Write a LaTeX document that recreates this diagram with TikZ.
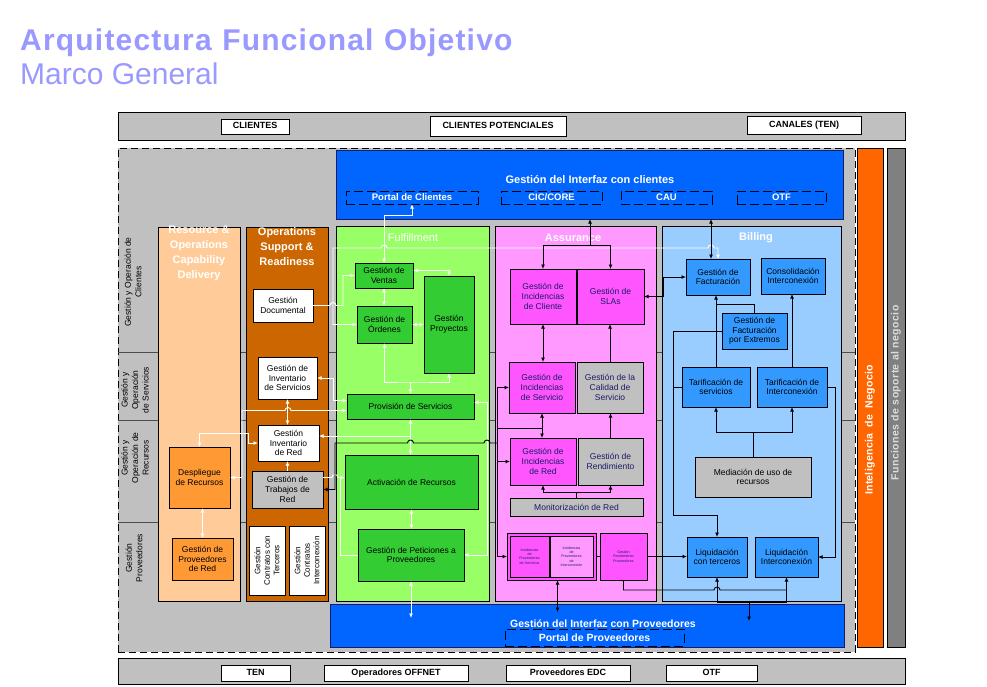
\documentclass[tikz,border=0pt]{standalone}
\usepackage{fontspec}
\setmainfont{Liberation Sans}
\usetikzlibrary{arrows.meta,calc}

\definecolor{ttl}{HTML}{9999FF}
\definecolor{bggray}{HTML}{C0C0C0}
\definecolor{ifblue}{HTML}{0066FF}
\definecolor{ibar}{HTML}{FF6600}
\definecolor{fbar}{HTML}{808080}
\definecolor{peach}{HTML}{FFCC99}
\definecolor{brownc}{HTML}{CC6600}
\definecolor{orbox}{HTML}{FF9933}
\definecolor{lgreen}{HTML}{99FF66}
\definecolor{dgreen}{HTML}{33CC33}
\definecolor{lpink}{HTML}{FF99FF}
\definecolor{magbox}{HTML}{FF55FF}
\definecolor{lblue}{HTML}{99CCFF}
\definecolor{bbox}{HTML}{3399FF}
\definecolor{navy}{HTML}{1A1A66}
\definecolor{fgray}{HTML}{DDDDDD}

\newcommand\fs{\fontsize{8.5}{9.6}\selectfont}
\newcommand\tinyfs{\fontsize{3.6}{4.3}\selectfont}
\newcommand\mybox[7]{\node[#1,minimum width={(#5-#3)*1pt},minimum height={(#6-#4)*1pt}] (#2) at ({(#3+#5)/2},{(#4+#6)/2}) {#7};}

\begin{document}
\begin{tikzpicture}[x=1pt,y=-1pt,
  bx/.style={draw=black,line width=0.7pt,inner sep=1pt,outer sep=0pt,align=center,font=\fs},
  plain/.style={inner sep=0pt,outer sep=0pt},
  tag/.style={draw=black,fill=white,line width=1pt,inner sep=0pt,outer sep=0pt,text height=6.8pt,text depth=1.9pt,font=\fontsize{9}{10}\selectfont\bfseries},
  dbx/.style={draw=black,dash pattern=on 9pt off 4pt,line width=0.9pt,inner sep=0pt,outer sep=0pt,text=white,font=\fontsize{9.5}{11}\selectfont\bfseries},
  coltitle/.style={inner sep=0pt,align=center,text=white,font=\fontsize{11}{15}\selectfont\bfseries},
  lbl/.style={rotate=90,inner sep=0pt,align=center,font=\fontsize{8.5}{10.5}\selectfont},
  wl/.style={draw=white,line width=0.9pt},
  bl/.style={draw=black,line width=0.9pt},
  sepl/.style={draw=black!70,line width=0.7pt},
  >={Latex[length=4.5pt,width=4pt]}]

\useasboundingbox (0,0) rectangle (987,686);
\fill[white] (0,0) rectangle (987,686);

% titles
\node[anchor=base west,inner sep=0pt,text=ttl,font=\fontsize{30}{32}\selectfont\bfseries\addfontfeature{LetterSpace=4}] (title) at (20,50) {Arquitectura\hspace{0.35em}Funcional\hspace{0.35em}Objetivo};
\node[anchor=base west,inner sep=0pt,text=ttl,font=\fontsize{30}{32}\selectfont] (subtitle) at (20,84) {Marco General};

% top bar
\mybox{plain,draw=black,fill=bggray,line width=0.8pt}{topbar}{118}{112}{905}{140}{}
\mybox{tag}{clientes}{221}{119}{289}{134}{CLIENTES}
\mybox{tag}{potenciales}{430}{116}{566}{136}{CLIENTES POTENCIALES}
\mybox{tag}{canales}{747}{116}{861}{134}{CANALES (TEN)}

% bottom bar
\mybox{plain,draw=black,fill=bggray,line width=0.8pt}{botbar}{118}{658}{905}{684}{}
\mybox{tag}{ten}{221}{665}{290}{681}{TEN}
\mybox{tag}{offnet}{324}{665}{468}{681}{Operadores OFFNET}
\mybox{tag}{edc}{506}{665}{630}{681}{Proveedores EDC}
\mybox{tag}{otfb}{666}{665}{757}{681}{OTF}

% main region
\mybox{plain,fill=bggray,draw=black,line width=0.8pt,dash pattern=on 7pt off 4pt}{main}{118}{148}{855}{652}{}
\draw[sepl] (main.west |- 0,352) -- (main.east |- 0,352);
\draw[sepl] (main.west |- 0,420) -- (main.east |- 0,420);
\draw[sepl] (main.west |- 0,522) -- (main.east |- 0,522);

% side bars
\mybox{plain,draw=black,fill=ibar,line width=0.6pt}{intel}{857}{148}{883}{647}{}
\node[rotate=90,inner sep=0pt,text=white,font=\fontsize{10.5}{12}\selectfont\bfseries\addfontfeature{LetterSpace=3}] (intelt) at (870,430) {Inteligencia\hspace{0.3em} de\hspace{0.3em} Negocio};
\mybox{plain,draw=black,fill=fbar,line width=0.6pt}{func}{887}{148}{905}{647}{}
\node[rotate=90,inner sep=0pt,text=fgray,font=\fontsize{10.5}{12}\selectfont\bfseries\addfontfeature{LetterSpace=4}] (funct) at (896,393) {Funciones de soporte al negocio};

% left labels
\node[lbl] (l1) at (133,282) {Gestión y Operación de\\Clientes};
\node[lbl] (l2) at (135,390) {Gestión y\\Operación\\de Servicios};
\node[lbl] (l3) at (135,458) {Gestión y\\Operación de\\Recursos};
\node[lbl] (l4) at (134,558) {Gestión\\Proveedores};

% client interface
\mybox{plain,draw=navy,fill=ifblue,line width=0.8pt}{iface}{336}{150}{843}{219}{}
\node[inner sep=0pt,text=white,font=\fontsize{11}{13}\selectfont\bfseries] (ifacet) at (590,180) {Gestión del Interfaz con clientes};
\mybox{dbx}{portal}{346}{191}{478}{204}{Portal de Clientes}
\mybox{dbx}{cic}{501}{191}{602}{204}{CIC/CORE}
\mybox{dbx}{cau}{621}{191}{712}{204}{CAU}
\mybox{dbx}{otf}{737}{191}{826}{204}{OTF}

% provider interface
\mybox{plain,draw=navy,fill=ifblue,line width=0.8pt}{pface}{330}{604}{844}{647}{}
\node[inner sep=0pt,text=white,font=\fontsize{10.5}{12}\selectfont\bfseries] (pfacet) at (603,624) {Gestión del Interfaz con Proveedores};
\mybox{dbx,font=\fontsize{10.5}{12}\selectfont\bfseries}{portalp}{505}{629}{684}{646}{Portal de Proveedores}

% columns
\mybox{plain,draw=black,fill=peach,line width=0.7pt}{rocd}{158}{227}{240}{601}{}
\node[coltitle,anchor=north] (rocdt) at (199,226) {Resource \&\\Operations\\Capability\\Delivery};
\mybox{plain,draw=black,fill=brownc,line width=0.7pt}{osr}{246}{227}{328}{601}{}
\node[coltitle,anchor=north] (osrt) at (287,227) {Operations\\Support \&\\Readiness};
\mybox{plain,draw=black,fill=lgreen,line width=0.7pt}{ful}{336}{226}{489}{601}{}
\node[inner sep=0pt,text=white,font=\fontsize{11}{13}\selectfont] (fult) at (413,238) {Fulfillment};
\mybox{plain,draw=black,fill=lpink,line width=0.7pt}{ass}{495}{226}{656}{601}{}
\node[inner sep=0pt,text=white,font=\fontsize{11}{13}\selectfont\bfseries] (asst) at (573,238) {Assurance};
\mybox{plain,draw=black,fill=lblue,line width=0.7pt}{bil}{662}{226}{841}{601}{}
\node[inner sep=0pt,text=white,font=\fontsize{11}{13}\selectfont\bfseries] (bilt) at (756,238) {Billing};

% resource column
\mybox{bx,fill=orbox}{despliegue}{169}{447}{230}{508}{Despliegue\\de Recursos}
\mybox{bx,fill=orbox}{provred}{172}{538}{233}{580}{Gestión de\\Proveedores\\de Red}

% operations support
\mybox{bx,fill=white}{documental}{253}{289}{313}{322}{Gestión\\Documental}
\mybox{bx,fill=white}{invserv}{258}{357}{317}{399}{Gestión de\\Inventario\\de Servicios}
\mybox{bx,fill=white}{invred}{258}{425}{319}{461}{Gestión\\Inventario\\de Red}
\mybox{bx,fill=bggray}{trabajos}{252}{471}{323}{508}{Gestión de\\Trabajos de\\Red}
\mybox{bx,fill=white}{contter}{249}{526}{285}{595}{}
\node[rotate=90,inner sep=0pt,align=center,font=\fontsize{8}{9.5}\selectfont] (conttert) at (contter.center) {Gestión\\Contratos con\\Terceros};
\mybox{bx,fill=white}{continter}{289}{526}{325}{595}{}
\node[rotate=90,inner sep=0pt,align=center,font=\fontsize{8}{9.5}\selectfont] (contintert) at (continter.center) {Gestión\\Contratos\\Interconexión};

% fulfillment
\mybox{bx,fill=dgreen}{ventas}{355}{263}{413}{288}{Gestión de\\Ventas}
\mybox{bx,fill=dgreen}{ordenes}{357}{306}{412}{343}{Gestión de\\Órdenes}
\mybox{bx,fill=dgreen}{proyectos}{424}{276}{474}{373}{Gestión\\Proyectos}
\mybox{bx,fill=dgreen}{provision}{347}{394}{474}{419}{Provisión de Servicios}
\mybox{bx,fill=dgreen}{activacion}{345}{455}{478}{509}{Activación de Recursos}
\mybox{bx,fill=dgreen}{peticiones}{358}{529}{464}{581}{Gestión de Peticiones a\\Proveedores}

% assurance
\mybox{bx,fill=magbox,text=navy}{incl}{510}{269}{576}{324}{Gestión de\\Incidencias\\de Cliente}
\mybox{bx,fill=magbox,text=navy}{slas}{577}{269}{644}{324}{Gestión de\\SLAs}
\mybox{bx,fill=magbox,text=navy}{incserv}{509}{362}{575}{413}{Gestión de\\Incidencias\\de Servicio}
\mybox{bx,fill=bggray,text=navy}{calidad}{577}{362}{643}{413}{Gestión de la\\Calidad de\\Servicio}
\mybox{bx,fill=magbox,text=navy}{incred}{510}{438}{576}{485}{Gestión de\\Incidencias\\de Red}
\mybox{bx,fill=bggray,text=navy}{rend}{578}{438}{643}{485}{Gestión de\\Rendimiento}
\mybox{bx,fill=bggray,text=navy}{monitor}{510}{498}{643}{516}{Monitorización de Red}
\mybox{bx,fill=magbox}{grp}{507}{533}{596}{580}{}
\mybox{bx,fill=magbox,font=\tinyfs,text=navy}{ip1}{510}{536}{549}{577}{Incidencias\\de\\Proveedores\\de Servicios}
\mybox{bx,fill=lpink,font=\tinyfs,text=navy}{ip2}{550}{536}{593}{577}{Incidencias\\de\\Proveedores\\de\\Interconexión}
\mybox{bx,fill=magbox,font=\tinyfs,text=navy}{rendprov}{600}{533}{647}{580}{Gestión\\Rendimiento\\Proveedores}

% billing
\mybox{bx,fill=bbox}{fact}{686}{259}{750}{295}{Gestión de\\Facturación}
\mybox{bx,fill=bbox}{consol}{761}{258}{825}{294}{Consolidación\\Interconexión}
\mybox{bx,fill=bbox}{extremos}{722}{313}{787}{349}{Gestión de\\Facturación\\por Extremos}
\mybox{bx,fill=bbox}{tarserv}{682}{367}{750}{407}{Tarificación de\\servicios}
\mybox{bx,fill=bbox}{tarinter}{757}{367}{827}{407}{Tarificación de\\Interconexión}
\mybox{bx,fill=bggray}{mediacion}{695}{457}{811}{497}{Mediación de uso de\\recursos}
\mybox{bx,fill=bbox}{liqter}{687}{537}{747}{577}{Liquidación\\con terceros}
\mybox{bx,fill=bbox}{liqinter}{755}{537}{818}{577}{Liquidación\\Interconexión}

% ---------- white connectors ----------
\draw[wl,<->] (ventas.north) -- (384,215) -| (portal.south);
\draw[wl,<->] (ordenes.west) -- (333,324.5) -- (333,248) -- (381,248) arc[start angle=180,end angle=360,radius=3] -- (708,248) arc[start angle=180,end angle=360,radius=3] -- (718,248) -- (fact.north);
\draw[wl,<->] (ventas.south) -- (ventas.south |- ordenes.north);
\draw[wl,<->] ([yshift=5pt]ventas.east) -| (proyectos.north);
\draw[wl,<->] (ordenes.east) -- (ordenes.east -| proyectos.west);
\coordinate (j1) at (410.5,382);
\draw[wl,<->] (ordenes.south) |- (j1) -| (proyectos.south);
\draw[wl,->] (j1) -- (provision.north);
\draw[wl,<->] (provision.south) -- (provision.south |- activacion.north);
\draw[wl,<->] (activacion.south) -- (activacion.south |- peticiones.north);
\draw[wl,<->] (peticiones.south) -- ++(0,37);
\draw[wl,->] (documental.east) -- (330,305.5) arc[start angle=180,end angle=360,radius=3] -- (343,305.5) |- (ventas.west);
\draw[wl,<->] (invserv.east) -- (333,378) |- ([yshift=6pt]provision.west);
\draw[wl,<->] (despliegue.east) -- (242,477.5) -- (242,410.5) -- (285,410.5) arc[start angle=180,end angle=360,radius=3] -- ([yshift=-4pt]provision.west);
\draw[wl,<->] (despliegue.north) |- (248,433) |- (invred.west);
\draw[wl,<->] (invserv.south) -- (invserv.south |- invred.north);
\draw[wl,->] (trabajos.north) -- (trabajos.north |- invred.south);
\coordinate (j2) at (410.5,436);
\draw[wl,<-] ([yshift=7pt]invred.east) -- (j2);
\draw[wl,->] ([yshift=12pt]trabajos.east) -- (332,477.5) arc[start angle=180,end angle=360,radius=3] -- (activacion.west |- 0,477.5);
\draw[wl] (340,477.5) |- (peticiones.west);
\draw[wl,<->] ([yshift=4pt]provision.east) -- (487,402.5) |- (peticiones.east);
\draw[wl,<->] (provred.north) -- (provred.north |- despliegue.south);

% ---------- black connectors ----------
\coordinate (j3) at (590,245);
\draw[bl,<-] (iface.south -| j3) -- (j3);
\draw[bl,->] (j3) -| (incl.north);
\draw[bl,->] (j3) -| (slas.north);
\draw[bl,<->] (iface.south -| 711,0) -- (fact.north -| 711,0);
\draw[bl,<->] (incl.south) -- (incl.south |- incserv.north);
\draw[bl,->] (calidad.north) -- (calidad.north |- slas.south);
\draw[bl,->] (rend.north) -- (rend.north |- calidad.south);
\draw[bl,<->] (incserv.south) -- (incserv.south |- incred.north);
\draw[bl,->] (monitor.north) -- ++(0,-6) -| (incred.south);
\draw[bl,->] (monitor.north) -- ++(0,-6) -| (rend.south);
\draw[bl,<->] (slas.east) -- (663,296.5) |- (fact.west);
\coordinate (j4) at (497,443);
\draw[bl,->] (j4) |- (incserv.west);
\draw[bl,->] (j4) |- (incred.west);
\draw[bl,->] (j4) |- (grp.west);
\draw[bl] (497,428) -- (incserv.south |- 0,428);
\draw[bl,->] (j4) -- (490,443) arc[start angle=0,end angle=-180,radius=3] -- (413.5,443) arc[start angle=0,end angle=-180,radius=3] -- (335,443) |- (trabajos.east);
\draw[bl,<->] ([xshift=6pt]grp.south) -- ++(0,32);
\draw[bl] (grp.east) -- (rendprov.west);
\draw[bl,->] (rendprov.east) -- (rendprov.east -| liqter.west);
\draw[bl] (rendprov.south) |- (714,590) arc[start angle=180,end angle=360,radius=3] -- (liqinter.south |- 0,590);
\coordinate (j5) at (749,602);
\draw[bl,<-] (liqter.south) |- (j5);
\draw[bl,<-] (liqinter.south) |- (j5);
\draw[bl,->] (j5) -- ++(0,19);
\draw[bl,->] (tarserv.north) -- (tarserv.north |- fact.south);
\draw[bl] (extremos.north) |- (tarserv.north |- 0,304);
\draw[bl,->] (tarinter.north) -- (tarinter.north |- consol.south);
\draw[bl,->] (extremos.west) -- (673,331) -- (673,515) -| (liqter.north);
\draw[bl] (tarserv.west) -- (673,387);
\draw[bl,->] (tarinter.east) -- (835,387) |- (liqinter.east);
\draw[bl,->] (mediacion.north) -- ++(0,-25) -| (tarserv.south);
\draw[bl,->] (mediacion.north) -- ++(0,-25) -| (tarinter.south);
\end{tikzpicture}
\end{document}
